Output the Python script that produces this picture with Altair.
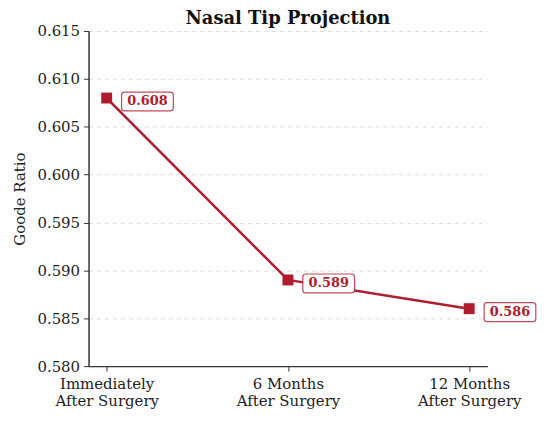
import altair as alt
import pandas as pd

stages = ["Immediately|After Surgery", "6 Months|After Surgery", "12 Months|After Surgery"]
ratios = [0.608, 0.589, 0.586]
y_ticks = [0.580, 0.585, 0.590, 0.595, 0.600, 0.605, 0.610, 0.615]

RED = "#b01c2e"
FONT = "DejaVu Serif"

df = pd.DataFrame({"stage": stages, "ratio": ratios})
df["label"] = [f"{v:.3f}" for v in ratios]

x_enc = alt.X(
    "stage:N",
    sort=stages,
    scale=alt.Scale(type="point", padding=0.1),
    axis=alt.Axis(
        title=None,
        labelAngle=0,
        labelExpr="split(datum.value, '|')",
        labelFont=FONT,
        labelFontSize=15,
        labelColor="#222",
        labelLineHeight=18,
        labelPadding=5,
        tickSize=5,
        tickColor="#333",
        domainColor="#333",
        domainWidth=1.5,
        grid=False,
    ),
)
y_enc = alt.Y(
    "ratio:Q",
    scale=alt.Scale(domain=[0.580, 0.615], nice=False, zero=False),
    axis=alt.Axis(
        title="Goode Ratio",
        values=y_ticks,
        format=".3f",
        labelFont=FONT,
        labelFontSize=15,
        labelColor="#222",
        labelPadding=4,
        titleFont=FONT,
        titleFontSize=15,
        titleFontWeight="normal",
        titleColor="#222",
        titlePadding=9,
        tickSize=5,
        tickColor="#333",
        domainColor="#333",
        domainWidth=1.5,
        grid=True,
        gridDash=[4, 4],
        gridColor="#dddddd",
        gridWidth=1,
    ),
)

base = alt.Chart(df).encode(x=x_enc, y=y_enc)

line = base.mark_line(color=RED, strokeWidth=2.5)
boxes = base.mark_rect(
    width=52, height=19, xOffset=41, yOffset=3.5,
    fill="white", stroke=RED, strokeWidth=1.2, cornerRadius=3, strokeOpacity=0.8,
)
texts = base.mark_text(
    dx=41, dy=3.5, font=FONT, fontSize=13, fontWeight="bold", color=RED,
    align="center", baseline="middle",
).encode(text="label:N")
points = base.mark_square(size=121, color=RED, opacity=1)

chart = (
    alt.layer(line, boxes, texts, points)
    .properties(
        width=401,
        height=337,
        title=alt.TitleParams(
            "Nasal Tip Projection", font=FONT, fontSize=18, fontWeight="bold",
            color="#111", anchor="middle", offset=-4,
        ),
        autosize=alt.AutoSizeParams(type="none"),
        padding={"left": 81, "top": 22, "right": 55, "bottom": 48},
        view=alt.ViewBackground(stroke="transparent", strokeWidth=0),
    )
    .configure_view(stroke="transparent", strokeOpacity=0, strokeWidth=0)
    .configure(background="white")
)

chart.save("out.html", embed_options={"renderer": "svg", "actions": False})
